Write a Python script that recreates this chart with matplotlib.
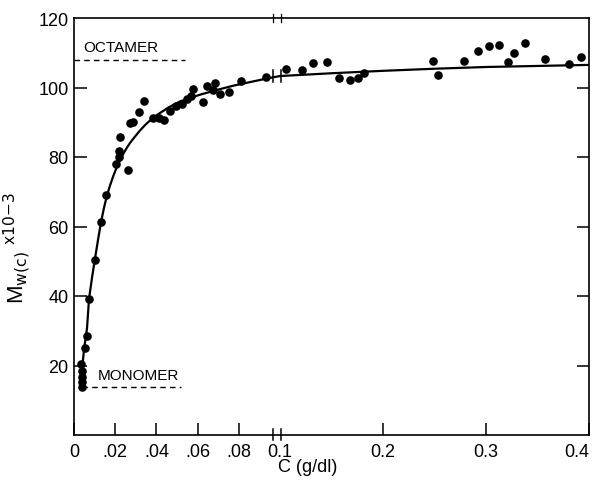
import numpy as np
import matplotlib
matplotlib.use("Agg")
import matplotlib.pyplot as plt
from matplotlib.transforms import blended_transform_factory

# measured points, C in g/dl, Mw(c) in thousands
conc = [0.0038, 0.0038, 0.0038, 0.0038, 0.0036, 0.0051, 0.0063, 0.0073, 0.0102,
        0.0131, 0.0155, 0.0204, 0.0218, 0.0218, 0.0223, 0.0262, 0.0272, 0.0288,
        0.0316, 0.0340, 0.0385, 0.0412, 0.0437, 0.0466, 0.0495, 0.0524, 0.0548,
        0.0568, 0.0576, 0.0626, 0.0646, 0.0675, 0.0684, 0.0709, 0.0752, 0.0810,
        0.0932, 0.106, 0.1215, 0.132, 0.146, 0.1576, 0.168, 0.176, 0.182,
        0.249, 0.253, 0.2785, 0.292, 0.303, 0.3127, 0.3215, 0.327, 0.338,
        0.3576, 0.381, 0.3927]
mw = [13.8, 15.3, 16.8, 18.5, 20.5, 25.0, 28.6, 39.2, 50.5,
      61.2, 69.0, 77.9, 79.9, 81.6, 85.7, 76.4, 89.8, 90.2,
      93.0, 96.0, 91.2, 91.2, 90.6, 93.2, 94.6, 95.2, 96.6,
      97.5, 99.5, 95.8, 100.4, 99.3, 101.2, 98.2, 98.6, 102.0,
      103.0, 105.3, 105.0, 107.0, 107.3, 102.7, 102.1, 102.7, 104.1,
      107.6, 103.5, 107.6, 110.5, 112.0, 112.2, 107.3, 109.9, 112.8,
      108.2, 106.7, 108.7]

# drawn fit curve
curve_c = [0.0030, 0.0049, 0.0063, 0.0073, 0.0088, 0.0102, 0.0117, 0.0131,
           0.0146, 0.0160, 0.0175, 0.0190, 0.0205, 0.0223, 0.0240, 0.0258,
           0.0275, 0.0295, 0.0320, 0.0345, 0.0369, 0.0403, 0.0460, 0.0515,
           0.0610, 0.0700, 0.0772, 0.0850, 0.0937, 0.1000,
           0.15, 0.20, 0.25, 0.30, 0.35, 0.40]
curve_mw = [13.5, 24.8, 30.6, 39.2, 45.5, 50.8, 56.3, 61.2,
            65.5, 68.9, 71.8, 74.4, 76.7, 79.0, 81.0, 82.8,
            84.3, 85.8, 87.6, 89.2, 90.5, 92.1, 94.3, 96.0,
            97.9, 99.4, 100.5, 101.5, 102.6, 103.3,
            104.1, 104.8, 105.4, 105.9, 106.2, 106.5]

octamer = 108
monomer = 13.8
xticks = [0, 0.02, 0.04, 0.06, 0.08, 0.1, 0.2, 0.3, 0.4]
xticklabels = ["0", ".02", ".04", ".06", ".08", "0.1", "0.2", "0.3", "0.4"]
yticks = [20, 40, 60, 80, 100, 120]


def fwd(x):
    x = np.asarray(x, dtype=float)
    return np.where(x <= 0.1, 2 * x, x + 0.1)


def inv(t):
    t = np.asarray(t, dtype=float)
    return np.where(t <= 0.2, t / 2, t - 0.1)


plt.rcParams["font.family"] = ["Liberation Sans", "DejaVu Sans"]

fig = plt.figure(figsize=(5.93, 4.81), dpi=100)
ax = fig.add_axes([74 / 593, 45 / 481, 515 / 593, 417 / 481])
ax.set_xscale("function", functions=(fwd, inv))
ax.set_xlim(0, 0.4)
ax.set_ylim(0, 120)

ax.plot(curve_c, curve_mw, color="black", lw=1.6, zorder=2)
ax.plot(conc, mw, "o", color="black", ms=6.2, mec="none", zorder=3)

ax.plot([0, 0.054], [octamer, octamer], color="black", lw=1.0, ls=(0, (4, 3)))
ax.plot([0.0039, 0.052], [monomer, monomer], color="black", lw=1.0, ls=(0, (4, 3)))
ax.text(0.0044, 109.5, "OCTAMER", fontsize=11, va="bottom", ha="left")
ax.text(0.0117, 17.3, "MONOMER", fontsize=11, va="center", ha="left")

ax.set_xticks(xticks)
ax.set_xticklabels(xticklabels)
ax.set_yticks(yticks)
ax.tick_params(axis="both", direction="in", length=9, width=1.1, labelsize=13,
               right=True, top=False)
ax.tick_params(axis="x", pad=6)
ax.tick_params(axis="y", pad=4)
ax.xaxis.get_major_ticks()[5].tick1line.set_visible(False)
ax.yaxis.get_major_ticks()[-1].tick1line.set_visible(False)
ax.yaxis.get_major_ticks()[-1].tick2line.set_visible(False)
ax.get_xticklabels()[-1].set_horizontalalignment("right")
for s in ax.spines.values():
    s.set_linewidth(1.2)

# axis break marks at 0.1
tr = blended_transform_factory(ax.transData, ax.transAxes)
for xb in (0.0968, 0.1005):
    ax.plot([xb, xb], [-0.012, 0.014], color="black", lw=1.1, transform=tr, clip_on=False)
    ax.plot([xb, xb], [0.99, 1.01], color="black", lw=0.9, transform=tr, clip_on=False)
    ax.plot([xb, xb], [101.5, 105.0], color="black", lw=1.1)

ax.set_xlabel("C (g/dl)", fontsize=13)
ax.xaxis.set_label_coords(0.454, -0.056)
ax.set_ylabel(r"M$_{\mathrm{w(c)}}$ $^{\mathrm{x10{-}3}}$", fontsize=16)
ax.yaxis.set_label_coords(-0.08, 0.45)

fig.savefig("out.png", dpi=100)
